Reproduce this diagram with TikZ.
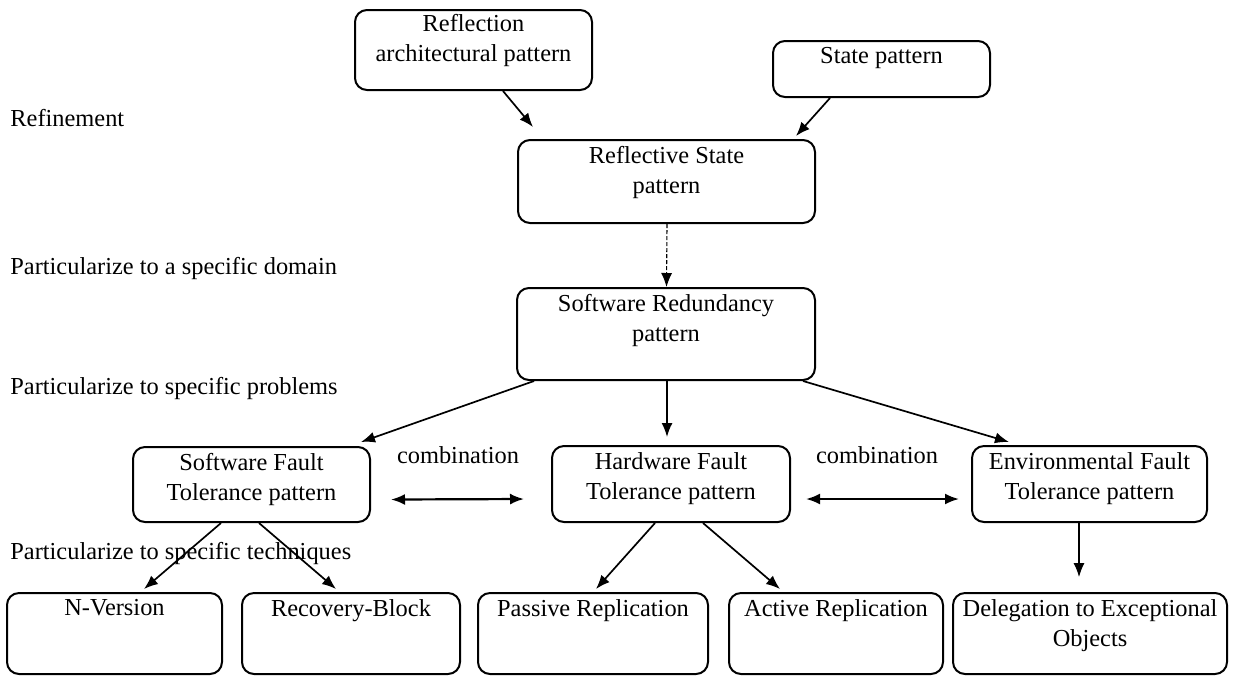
\documentclass[tikz,border=0pt]{standalone}
\usepackage{fontspec}
\setmainfont{Liberation Serif}
\usetikzlibrary{arrows.meta,calc,fit}
\begin{document}
\begin{tikzpicture}[x=0.5pt,y=-0.5pt,
  font=\fontsize{12.2}{15}\selectfont,
  box/.style={draw,rounded corners=6pt,line width=1pt,inner sep=0pt},
  lab/.style={anchor=north,align=center,inner sep=0pt,yshift=-3.5pt},
  arr/.style={line width=0.85pt,-{Latex[length=7pt,width=5.5pt]}},
  thinarr/.style={line width=0.55pt,-{Latex[length=7pt,width=5.5pt]}},
  dbl/.style={line width=1.1pt,{Latex[length=7pt,width=5.5pt]}-{Latex[length=7pt,width=5.5pt]}},
  side/.style={anchor=west,inner sep=0pt}]
\useasboundingbox (0,0) rectangle (1234,676);

% pattern boxes
\node[box,fit={(355,10) (592,90)}] (refl) {};
\node[lab,yshift=1pt] (refltxt) at (refl.north) {Reflection\\architectural pattern};
\node[box,fit={(773,41) (990,97)}] (state) {};
\node[lab] (statetxt) at (state.north) {State pattern};
\node[box,fit={(518,140) (815,223)}] (rs) {};
\node[lab] (rstxt) at (rs.north) {Reflective State\\pattern};
\node[box,fit={(517,288) (815,380)}] (sr) {};
\node[lab] (srtxt) at (sr.north) {Software Redundancy\\pattern};
\node[box,fit={(133,447) (370,522)}] (sf) {};
\node[lab] (sftxt) at (sf.north) {Software Fault\\Tolerance pattern};
\node[box,fit={(552,446) (790,522)}] (hf) {};
\node[lab] (hftxt) at (hf.north) {Hardware Fault\\Tolerance pattern};
\node[box,fit={(972,446) (1207,522)}] (ef) {};
\node[lab] (eftxt) at (ef.north) {Environmental Fault\\Tolerance pattern};

% technique boxes
\node[box,fit={(7,593) (222,674)}] (nv) {};
\node[lab] (nvtxt) at (nv.north) {N-Version};
\node[box,fit={(242,593) (460,674)}] (rb) {};
\node[lab] (rbtxt) at (rb.north) {Recovery-Block};
\node[box,fit={(478,593) (708,674)}] (pr) {};
\node[lab] (prtxt) at (pr.north) {Passive Replication};
\node[box,fit={(729,593) (943,674)}] (ar) {};
\node[lab] (artxt) at (ar.north) {Active Replication};
\node[box,fit={(953,593) (1227,674)}] (de) {};
\node[lab] (detxt) at (de.north) {Delegation to Exceptional\\Objects};

% level captions
\node[side] (l1) at (10,118) {Refinement};
\node[side] (l2) at (10,268) {Particularize to a specific domain};
\node[side] (l3) at (10,388) {Particularize to specific problems};
\node[side] (l4) at (10,553) {Particularize to specific techniques};

% combination captions
\node (c1) at (458,455) {combination};
\node (c2) at (877,455) {combination};

% refinement
\draw[arr] ($(refl.south west)+(149,0)$) -- ($(rs.north west)+(16,-12)$);
\draw[arr] ($(state.south west)+(58,0)$) -- ($(rs.north east)+(-20,-3)$);
\draw[thinarr,dash pattern=on 2pt off 1pt] ($(rs.south)+(0.5,0)$) -- ($(sr.north)+(0.5,0)$);

% specific problems
\draw[arr] ($(sr.south west)+(18,0)$) -- ($(sf.north east)+(-10,-4)$);
\draw[arr] ($(sr.south)+(1,0)$) -- ($(sr.south |- hf.north)+(1,-8)$);
\draw[arr] ($(sr.south east)+(-13,0)$) -- ($(ef.north west)+(38,-3)$);

% combinations
\draw[dbl] ($(sf.east)+(20,15)$) -- ($(hf.west)+(-27,15)$);
\draw[dbl] ($(hf.east)+(15,15)$) -- ($(ef.west)+(-12,15)$);

% specific techniques
\draw[arr] ($(sf.south west)+(89,0)$) -- ($(nv.north west)+(138,-3)$);
\draw[arr] ($(sf.south west)+(127,0)$) -- ($(rb.north west)+(95,-3)$);
\draw[arr] ($(hf.south west)+(104,0)$) -- ($(pr.north west)+(119,-3)$);
\draw[arr] ($(hf.south west)+(152,0)$) -- ($(ar.north west)+(52,-3)$);
\draw[thinarr] ($(ef.south west)+(108,0)$) -- ($(de.north west)+(127,-15)$);
\end{tikzpicture}
\end{document}
